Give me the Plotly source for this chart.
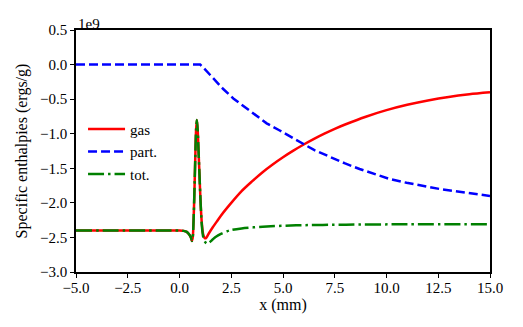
import plotly.graph_objects as go

# Values in units of 1e9 ergs/g
gas_x = [-5.0, -1.0, 0.0, 0.2, 0.35, 0.45, 0.55, 0.60, 0.64, 0.68, 0.72, 0.76, 0.80, 0.84, 0.88, 0.92,
         0.96, 1.02, 1.08, 1.14, 1.22, 1.28, 1.4, 1.6, 1.8, 2.0, 2.5, 3.0, 3.5, 4.0, 4.5, 5.0, 5.5,
         5.98, 6.5, 7.0, 7.5, 8.0, 9.0, 10.0, 11.0, 12.0, 13.0, 14.0, 15.0]
gas_y = [-2.40, -2.40, -2.40, -2.405, -2.42, -2.45, -2.50, -2.55, -2.50, -2.25, -1.85, -1.38, -0.95,
         -0.80, -0.95, -1.25, -1.55, -2.00, -2.30, -2.45, -2.51, -2.51, -2.45, -2.357, -2.271, -2.185,
         -2.00, -1.83, -1.69, -1.56, -1.445, -1.34, -1.245, -1.16, -1.075, -1.00, -0.93, -0.867, -0.754,
         -0.659, -0.582, -0.519, -0.468, -0.43, -0.402]

part_x = [-5.0, 0.0, 1.0, 1.2, 1.63, 2.1, 2.6, 3.0, 3.37, 3.89, 4.21, 4.82, 5.4, 5.95, 6.5, 7.0, 7.5,
          8.0, 8.7, 9.36, 10.1, 10.97, 11.8, 12.58, 13.8, 15.0]
part_y = [0.0, 0.0, 0.0, -0.06, -0.20, -0.35, -0.49, -0.58, -0.66, -0.78, -0.85, -0.95, -1.05, -1.15,
          -1.235, -1.30, -1.37, -1.43, -1.51, -1.58, -1.65, -1.71, -1.76, -1.80, -1.85, -1.90]

tot_x = [-5.0, -1.0, 0.0, 0.2, 0.35, 0.45, 0.55, 0.60, 0.64, 0.68, 0.72, 0.76, 0.80, 0.84, 0.88, 0.92,
         0.96, 1.02, 1.08, 1.15, 1.25, 1.33, 1.45, 1.6, 1.76, 2.0, 2.41, 3.0, 4.02, 5.63, 8.04, 11.0, 15.0]
tot_y = [-2.40, -2.40, -2.40, -2.405, -2.42, -2.45, -2.50, -2.55, -2.50, -2.25, -1.85, -1.38, -0.95,
         -0.80, -0.95, -1.25, -1.55, -2.00, -2.33, -2.50, -2.57, -2.59, -2.57, -2.53, -2.49, -2.45, -2.40,
         -2.37, -2.345, -2.325, -2.315, -2.31, -2.31]

x_ticks = [-5.0, -2.5, 0.0, 2.5, 5.0, 7.5, 10.0, 12.5, 15.0]
x_labels = ["\u22125.0", "\u22122.5", "0.0", "2.5", "5.0", "7.5", "10.0", "12.5", "15.0"]
y_ticks = [0.5, 0.0, -0.5, -1.0, -1.5, -2.0, -2.5, -3.0]
y_labels = ["0.5", "0.0", "\u22120.5", "\u22121.0", "\u22121.5", "\u22122.0", "\u22122.5", "\u22123.0"]

FONT = "Liberation Serif"

fig = go.Figure()
fig.add_trace(go.Scatter(x=gas_x, y=gas_y, mode="lines", name="gas", legendgroup="g1",
                         line=dict(color="#ff0000", width=2.5, shape="spline", smoothing=0.8)))
fig.add_trace(go.Scatter(x=part_x, y=part_y, mode="lines", name="part.", legendgroup="g2",
                         line=dict(color="#0000ff", width=2.5, dash="9px,4px", shape="linear")))
fig.add_trace(go.Scatter(x=tot_x, y=tot_y, mode="lines", name="tot.", legendgroup="g3",
                         line=dict(color="#008000", width=2.5, dash="16px,4px,2.5px,4px", shape="spline",
                                   smoothing=0.8)))

axis_common = dict(showgrid=False, zeroline=False, showline=True, linecolor="black", linewidth=1.6,
                   mirror=True, ticks="outside", ticklen=4, tickwidth=1.3, tickcolor="black",
                   tickfont=dict(family=FONT, size=15, color="black"))

fig.update_xaxes(range=[-5, 15], tickvals=x_ticks, ticktext=x_labels, ticklabelstandoff=-3,
                 title=dict(text="x (mm)", font=dict(family=FONT, size=16, color="black"), standoff=0),
                 **axis_common)
fig.update_yaxes(range=[-3, 0.5], tickvals=y_ticks, ticktext=y_labels,
                 title=dict(text="Specific enthalpies (ergs/g)", font=dict(family=FONT, size=16, color="black"),
                            standoff=8),
                 **axis_common)

fig.add_annotation(text="1e9", xref="paper", yref="paper", x=0, y=1, xanchor="left", yanchor="bottom",
                   showarrow=False, font=dict(family=FONT, size=15, color="black"), yshift=-4)

fig.update_layout(
    width=523, height=327,
    margin=dict(l=68, r=41, t=22, b=63),
    paper_bgcolor="white", plot_bgcolor="white",
    font=dict(family=FONT, size=15, color="black"),
    legend=dict(x=0.017, y=0.658, xanchor="left", yanchor="top", bgcolor="rgba(0,0,0,0)",
                font=dict(family=FONT, size=15, color="black"), tracegroupgap=0, itemwidth=37),
)

fig.write_html("out.html")
